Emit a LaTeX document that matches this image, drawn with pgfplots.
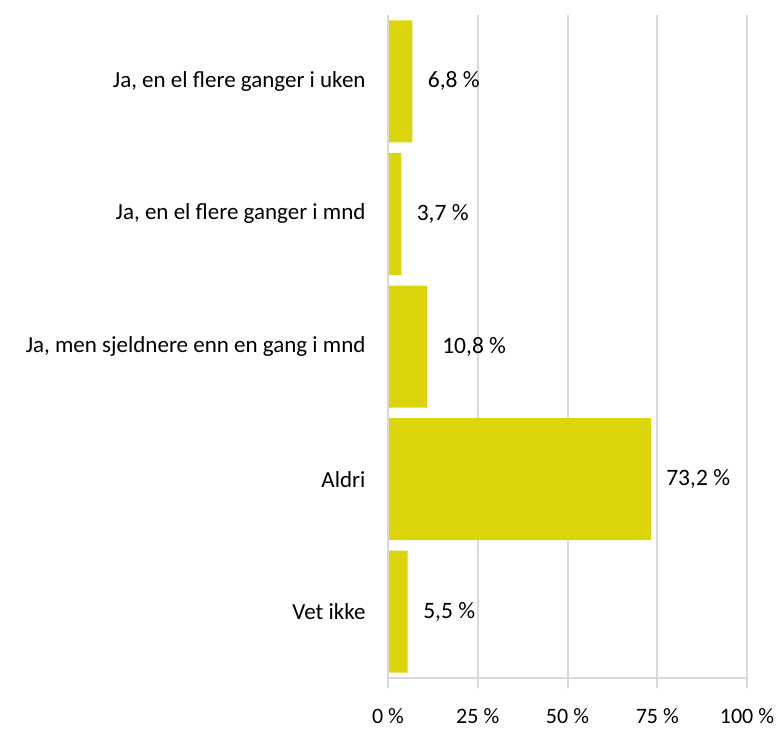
\documentclass[border=0pt]{standalone}
\usepackage{pgfplots}
\pgfplotsset{compat=1.18}
\usepackage{fontspec}
\setmainfont{Carlito}
\definecolor{barc}{HTML}{DDD50C}
\definecolor{gridc}{HTML}{D9D9D9}
\begin{document}
\begin{tikzpicture}[x=1pt,y=1pt]
\useasboundingbox (-388,-53) rectangle (390,678);
\begin{axis}[
  at={(0,0)}, anchor=south west,
  scale only axis, width=359pt, height=663pt,
  xbar, bar width=122pt,
  xmin=0, xmax=100,
  ymin=-0.5, ymax=4.5,
  ytick={0,1,2,3,4},
  yticklabels={Vet ikke,Aldri,{Ja, men sjeldnere enn en gang i mnd},{Ja, en el flere ganger i mnd},{Ja, en el flere ganger i uken}},
  xtick={0,25,50,75,100},
  xticklabels={0 \%,25 \%,50 \%,75 \%,100 \%},
  /pgf/number format/assume math mode=true,
  font=\fontsize{23}{25}\selectfont,
  tick label style={font=\fontsize{23}{25}\selectfont},
  xticklabel style={font=\fontsize{22}{24}\selectfont, yshift=-17pt},
  xmajorgrids, grid style={gridc, line width=2pt},
  axis x line*=bottom, axis y line*=left,
  x axis line style={gridc, line width=2pt, -},
  y axis line style={draw=none},
  xtick style={gridc, line width=2pt},
  major tick length=10pt, tick align=outside,
  ytick style={draw=none},
  yticklabel style={xshift=-9pt},
  nodes near coords={\pgfmathprintnumber[fixed,fixed zerofill,precision=1,use comma]{\pgfplotspointmeta} \%},
  nodes near coords style={anchor=west, xshift=12pt, font=\fontsize{23.5}{25}\selectfont, black},
  point meta=explicit,
  clip=false,
]
\addplot[fill=barc, draw=none] coordinates {
  (5.5,0) [5.5]
  (73.2,1) [73.2]
  (10.8,2) [10.8]
  (3.7,3) [3.7]
  (6.8,4) [6.8]
};
\draw[gridc, line width=2pt] (axis cs:0,-0.5) -- (axis cs:0,4.5);
\end{axis}
\end{tikzpicture}
\end{document}
